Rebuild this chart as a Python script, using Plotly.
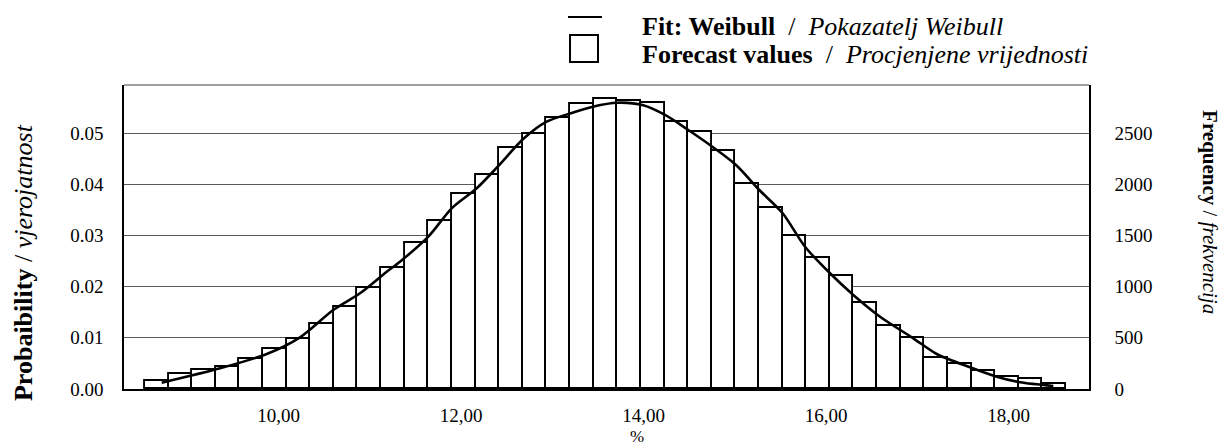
import plotly.graph_objects as go

# ---------------- data ----------------
bin_centers = [8.665, 8.924, 9.183, 9.442, 9.701, 9.959, 10.218, 10.477, 10.736, 10.994,
               11.253, 11.512, 11.771, 12.030, 12.288, 12.547, 12.806, 13.065, 13.324, 13.582,
               13.841, 14.100, 14.359, 14.618, 14.876, 15.135, 15.394, 15.653, 15.912, 16.170,
               16.429, 16.688, 16.947, 17.206, 17.464, 17.723, 17.982, 18.241, 18.500]
frequency = [78, 146, 186, 218, 290, 391, 485, 635, 798, 986,
             1179, 1423, 1641, 1904, 2093, 2351, 2487, 2644, 2783, 2832,
             2815, 2790, 2610, 2513, 2327, 2002, 1770, 1494, 1276, 1104,
             843, 618, 501, 300, 244, 179, 120, 95, 46]
bin_width = 0.2588

fit_x = [8.719, 9.358, 9.870, 10.235, 10.599, 10.892, 11.185, 11.330, 11.641, 11.897,
         12.171, 12.401, 12.689, 12.938, 13.201, 13.442, 13.712, 13.997, 14.235, 14.490,
         14.753, 15.013, 15.268, 15.524, 15.769, 16.043, 16.298, 16.591, 16.956, 17.212,
         17.577, 17.870, 18.125, 18.490]
fit_prob = [0.00123, 0.00404, 0.00684, 0.0101, 0.01543, 0.01869, 0.02291, 0.02486, 0.02975, 0.03529,
            0.0392, 0.04342, 0.04896, 0.05221, 0.05385, 0.05514, 0.05592, 0.05541, 0.05352, 0.05059,
            0.04732, 0.04375, 0.03887, 0.03432, 0.02779, 0.0226, 0.01836, 0.01412, 0.0099, 0.00684,
            0.00424, 0.0024, 0.00131, 0.00059]

x_tick_vals = [10, 12, 14, 16, 18]
x_tick_text = ["10,00", "12,00", "14,00", "16,00", "18,00"]
prob_ticks = [0.00, 0.01, 0.02, 0.03, 0.04, 0.05]
freq_ticks = [0, 500, 1000, 1500, 2000, 2500]

n_trials = 50000
prob_top = 0.059375
freq_top = prob_top * n_trials
x_range = [8.306, 18.881]

FONT = "Liberation Serif"

fig = go.Figure()
fig.add_trace(go.Bar(
    x=bin_centers, y=frequency, width=bin_width,
    marker=dict(color="white", line=dict(color="black", width=1.9)),
    yaxis="y", showlegend=False, name="Forecast values"))
fig.add_trace(go.Scatter(
    x=fit_x, y=fit_prob, mode="lines",
    line=dict(color="black", width=2.6, shape="spline", smoothing=0.8),
    yaxis="y2", showlegend=False, name="Fit: Weibull"))

fig.update_layout(
    width=1230, height=446,
    margin=dict(l=124, r=141, t=85, b=57),
    paper_bgcolor="white", plot_bgcolor="white",
    font=dict(family=FONT, color="black", size=19),
    bargap=0,
    xaxis=dict(range=x_range, tickvals=x_tick_vals, ticktext=x_tick_text,
               showgrid=False, zeroline=False, showline=True, linecolor="black",
               linewidth=1.5, ticks="", ticklabelstandoff=8,
               tickfont=dict(family=FONT, size=19)),
    yaxis=dict(side="right", range=[0, freq_top], tickvals=freq_ticks,
               showgrid=True, gridcolor="#5a5a5a", gridwidth=1, zeroline=False,
               showline=True, linecolor="black", linewidth=1.5, ticks="",
               ticklabelstandoff=20, tickfont=dict(family=FONT, size=19)),
    yaxis2=dict(overlaying="y", side="left", range=[0, prob_top], tickvals=prob_ticks,
                tickformat=".2f", showgrid=False, zeroline=False,
                showline=True, linecolor="black", linewidth=1.5, ticks="",
                ticklabelstandoff=15, tickfont=dict(family=FONT, size=19)),
    shapes=[
        dict(type="line", xref="paper", yref="paper", x0=0, x1=1, y0=1, y1=1,
             line=dict(color="#808080", width=1.5)),
        dict(type="line", xref="paper", yref="paper", x0=0.4601, x1=0.4953,
             y0=1.2237, y1=1.2237, line=dict(color="black", width=2)),
        dict(type="rect", xref="paper", yref="paper", x0=0.4622, x1=0.4912,
             y0=1.0757, y1=1.1645, line=dict(color="black", width=2), fillcolor="white"),
    ],
    annotations=[
        dict(text="<b>Fit: Weibull</b>  /  <i>Pokazatelj Weibull</i>", xref="paper", yref="paper",
             x=0.5347, y=1.1908, xanchor="left", yanchor="middle", showarrow=False,
             font=dict(family=FONT, size=26)),
        dict(text="<b>Forecast values</b>  /  <i>Procjenjene vrijednosti</i>", xref="paper", yref="paper",
             x=0.5347, y=1.0987, xanchor="left", yanchor="middle", showarrow=False,
             font=dict(family=FONT, size=26)),
        dict(text="<b>Probaibility</b> / <i>vjerojatnost</i>", xref="paper", yref="paper",
             x=-0.1036, y=0.4145, xanchor="center", yanchor="middle", textangle=-90,
             showarrow=False, font=dict(family=FONT, size=26)),
        dict(text="<b>Frequency</b> / <i>frekvencija</i>", xref="paper", yref="paper",
             x=1.1254, y=0.582, xanchor="center", yanchor="middle", textangle=90,
             showarrow=False, font=dict(family=FONT, size=21)),
        dict(text="%", xref="paper", yref="paper", x=0.532, y=-0.156,
             xanchor="center", yanchor="middle", showarrow=False,
             font=dict(family=FONT, size=17)),
    ],
)

fig.write_html("out.html",
               config={"displayModeBar": False},
               post_script="document.body.style.margin='0';document.body.style.overflow='hidden';")
